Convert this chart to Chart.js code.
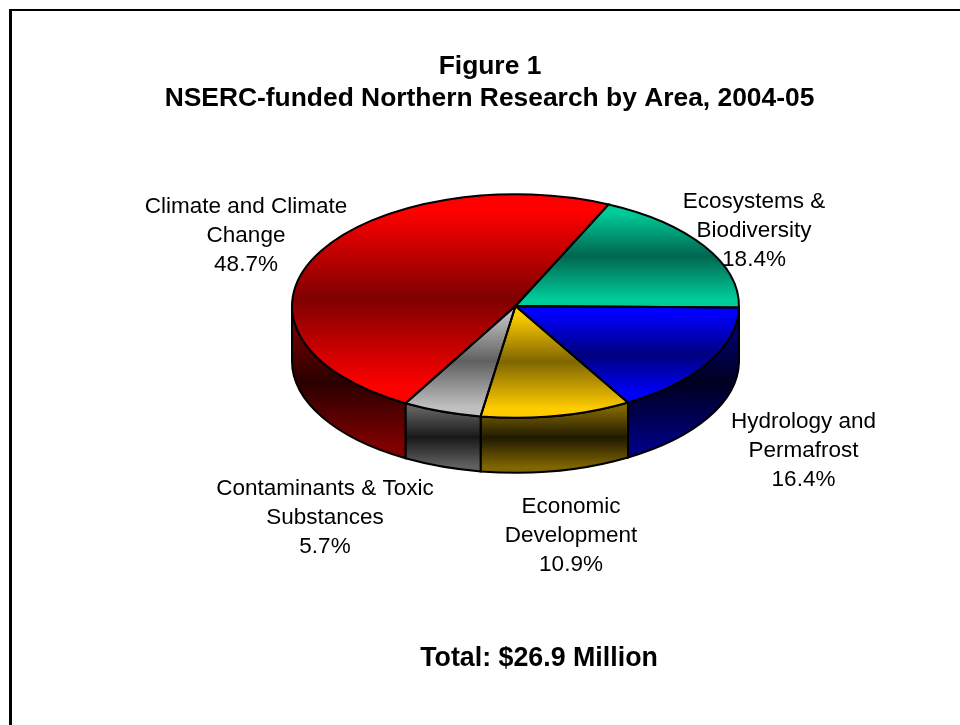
<!DOCTYPE html>
<html>
<head>
<meta charset="utf-8">
<title>NSERC-funded Northern Research by Area, 2004-05</title>
<script src="https://cdn.jsdelivr.net/npm/chart.js@4/dist/chart.umd.js"></script>
<style>
    html, body { margin: 0; padding: 0; background: #fff; }
    #wrap { width: 960px; height: 725px; }
</style>
</head>
<body>
<div id="wrap"><canvas id="myChart" width="960" height="725"></canvas></div>
<script>
//my data
const areaNames = ['Hydrology and Permafrost', 'Economic Development', 'Contaminants & Toxic Substances', 'Climate and Climate Change', 'Ecosystems & Biodiversity']
const areaShares = [16.4, 10.9, 5.7, 48.7, 18.4]
const labelLines = [
    ['Hydrology and', 'Permafrost', '16.4%'],
    ['Economic', 'Development', '10.9%'],
    ['Contaminants & Toxic', 'Substances', '5.7%'],
    ['Climate and Climate', 'Change', '48.7%'],
    ['Ecosystems &', 'Biodiversity', '18.4%']
]
const titleLines = ['Figure 1', 'NSERC-funded Northern Research by Area, 2004-05']
const totalText = 'Total: $26.9 Million'

// slice colours: bright edge of the face gradient and its dark middle
const brightColors = ['#0000ff', '#ffcc00', '#c0c0c0', '#ff0000', '#00cc99']
const darkColors = ['#000080', '#806600', '#606060', '#7f0000', '#006650']
const wallColors = ['#000020', '#201900', '#181818', '#2a0000', '#001a14']

/////////////////////////////////////////////////////////////
//Tilted pie
/////////////////////////////////////////////////////////////
const tilt = 0.5       // vertical squash of the disc
const depth = 55       // height of the side wall
const outline = 2
const fontName = '"Liberation Sans", Arial, sans-serif'

const labelSpots = [[803.5, 428], [571, 513], [325, 495], [246, 213], [754, 208]]
const labelSize = 22.5
const labelGap = 29

function threeStop(ctx, y0, y1, edge, middle) {
    const g = ctx.createLinearGradient(0, y0, 0, y1)
    g.addColorStop(0.08, edge)
    g.addColorStop(0.5, middle)
    g.addColorStop(0.92, edge)
    return g
}

// top and bottom of a slice in the arc's own coordinates
function sliceExtent(arc) {
    const ys = [arc.y]
    const add = a => ys.push(arc.y + arc.outerRadius * Math.sin(a))
    add(arc.startAngle)
    add(arc.endAngle)
    for (let a = -Math.PI * 1.5; a < Math.PI * 4; a += Math.PI) {
        if (a > arc.startAngle && a < arc.endAngle) add(a)
    }
    return [Math.min(...ys), Math.max(...ys)]
}

// the part of a slice that faces the viewer, in radians
function frontPart(arc) {
    const twoPi = Math.PI * 2
    let a0 = arc.startAngle
    let a1 = arc.endAngle
    if (a0 < 0) { a0 += twoPi; a1 += twoPi }
    if (a0 >= Math.PI) { a0 -= twoPi; a1 -= twoPi }
    a0 = Math.max(a0, 0)
    a1 = Math.min(a1, Math.PI)
    return a1 > a0 ? [a0, a1] : null
}

function drawWalls(ctx, arcs) {
    arcs.forEach((arc, i) => {
        const part = frontPart(arc)
        if (!part) return
        const rx = arc.outerRadius
        const ry = rx * tilt
        const s0 = Math.sin(part[0])
        const s1 = Math.sin(part[1])
        const top = arc.y + ry * Math.min(s0, s1)
        const low = arc.y + ry * (part[0] < Math.PI / 2 && part[1] > Math.PI / 2 ? 1 : Math.max(s0, s1)) + depth
        ctx.beginPath()
        ctx.ellipse(arc.x, arc.y, rx, ry, 0, part[0], part[1])
        ctx.ellipse(arc.x, arc.y + depth, rx, ry, 0, part[1], part[0], true)
        ctx.closePath()
        ctx.fillStyle = threeStop(ctx, top, low, darkColors[i], wallColors[i])
        ctx.fill()
        ctx.lineWidth = outline
        ctx.strokeStyle = '#000'
        ctx.stroke()
    })
}

function drawFaceLines(ctx, arcs) {
    ctx.lineWidth = outline
    ctx.strokeStyle = '#000'
    arcs.forEach(arc => {
        const rx = arc.outerRadius
        const ry = rx * tilt
        ctx.beginPath()
        ctx.moveTo(arc.x, arc.y)
        ctx.lineTo(arc.x + rx * Math.cos(arc.startAngle), arc.y + ry * Math.sin(arc.startAngle))
        ctx.ellipse(arc.x, arc.y, rx, ry, 0, arc.startAngle, arc.endAngle)
        ctx.closePath()
        ctx.stroke()
    })
}

const tiltedPie = {
    id: 'tiltedPie',
    beforeDatasetDraw(chart, args) {
        const ctx = chart.ctx
        const arcs = args.meta.data
        drawWalls(ctx, arcs)
        // gradient per slice, set after layout so it can follow the arc geometry
        arcs.forEach((arc, i) => {
            const ext = sliceExtent(arc)
            arc.options.backgroundColor = threeStop(ctx, ext[0], ext[1], brightColors[i], darkColors[i])
        })
        ctx.save()
        ctx.translate(0, arcs[0].y)
        ctx.scale(1, tilt)
        ctx.translate(0, -arcs[0].y)
    },
    afterDatasetDraw(chart, args) {
        const ctx = chart.ctx
        ctx.restore()
        drawFaceLines(ctx, args.meta.data)
    }
}

// page frame, headings, slice captions and the total line
const annotations = {
    id: 'annotations',
    beforeDraw(chart) {
        const ctx = chart.ctx
        ctx.fillStyle = '#000'
        ctx.fillRect(9, 9, 951, 2)
        ctx.fillRect(9, 9, 3, 716)
    },
    afterDraw(chart) {
        const ctx = chart.ctx
        ctx.save()
        ctx.fillStyle = '#000'
        ctx.textAlign = 'center'
        ctx.textBaseline = 'alphabetic'
        ctx.font = 'bold 26.4px ' + fontName
        ctx.fillText(titleLines[0], 490, 74)
        ctx.fillText(titleLines[1], 489.5, 106)
        ctx.font = labelSize + 'px ' + fontName
        labelLines.forEach((lines, i) => {
            lines.forEach((line, n) => {
                ctx.fillText(line, labelSpots[i][0], labelSpots[i][1] + n * labelGap)
            })
        })
        ctx.font = 'bold 26.8px ' + fontName
        ctx.fillText(totalText, 539, 666)
        ctx.restore()
    }
}

const config = {
    type: 'pie',
    data: {
        labels: areaNames,
        datasets: [{
            data: areaShares,
            backgroundColor: brightColors,
            borderWidth: 0,
            radius: 223.5
        }]
    },
    plugins: [annotations, tiltedPie],
    options: {
        responsive: false,
        animation: false,
        rotation: 90.8,
        layout: { padding: { left: 71, bottom: 113 } },
        plugins: {
            legend: { display: false },
            tooltip: { enabled: false },
            title: { display: false }
        }
    }
}
// render / init
const myChart = new Chart(document.getElementById('myChart'), config)
</script>
</body>
</html>
